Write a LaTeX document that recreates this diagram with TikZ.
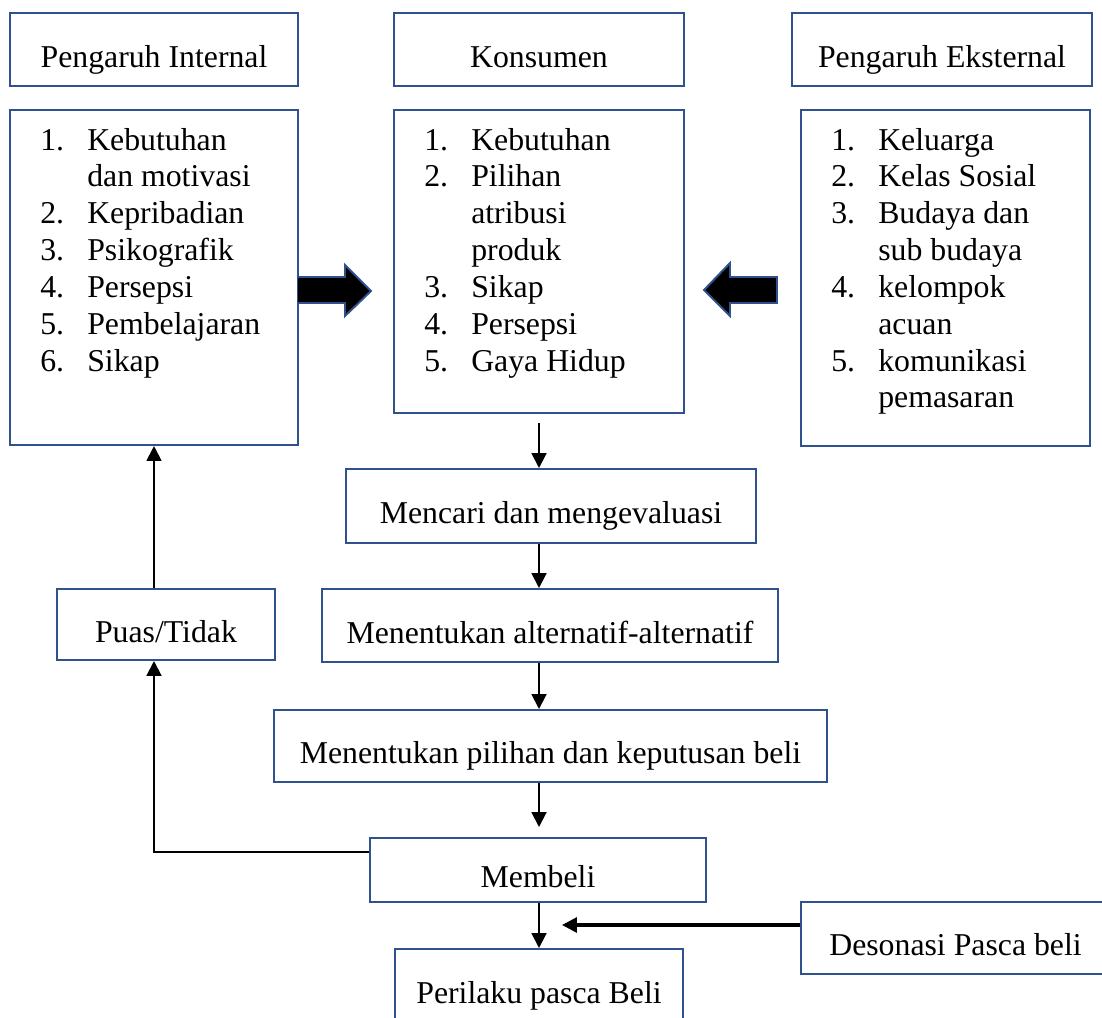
\documentclass[tikz,border=0pt]{standalone}
\usepackage{fontspec}
\setmainfont{Liberation Serif}
\usetikzlibrary{arrows.meta,positioning}
\definecolor{boxblue}{RGB}{47,82,143}
\newcommand{\pix}{0.025cm}
\newcommand{\itm}[2]{\makebox[1.175cm][l]{#1}#2}
\newcommand{\cnt}[1]{\hspace*{1.175cm}#1}

\begin{document}
\begin{tikzpicture}[
    x=\pix, y=-\pix,
    >={Triangle[length=0.37cm, width=0.37cm]},
    every node/.style={font=\fontsize{22.6}{26.2}\selectfont},
    box/.style={draw=boxblue, line width=1.4pt, inner sep=0pt, text height=0.875cm, text depth=0pt},
    lst/.style={align=left, inner sep=0pt, anchor=north west},
    conn/.style={->, line width=1.4pt},
    blk/.style={draw=boxblue, line width=1.4pt, fill=black, line join=miter},
  ]
    \useasboundingbox (0,0) rectangle (1102,1017);
    \clip (0,0) rectangle (1102,1017);

    % top row
    \node[box, minimum width=7.2cm, minimum height=1.825cm] (intl) at (154,49.5) {Pengaruh Internal};
    \node[box, minimum width=7.25cm, minimum height=1.825cm] (kons) at (539,49.5) {Konsumen};
    \node[box, minimum width=7.5cm, minimum height=1.825cm] (ekst) at (942,49.5) {Pengaruh Eksternal};

    % factor lists
    \node[box, minimum width=7.2cm, minimum height=8.375cm] (intlist) at (154,277.5) {};
    \node[box, minimum width=7.25cm, minimum height=7.575cm] (konlist) at (539,261.5) {};
    \node[box, minimum width=7.225cm, minimum height=8.4cm] (ekslist) at (945.5,278) {};
    \node[lst] (intitems) at ([shift={(31,15)}]intlist.north west) {\strut\itm{1.}{Kebutuhan}\\
      \cnt{dan motivasi}\\ \itm{2.}{Kepribadian}\\ \itm{3.}{Psikografik}\\
      \itm{4.}{Persepsi}\\ \itm{5.}{Pembelajaran}\\ \itm{6.}{Sikap}};
    \node[lst] (konitems) at ([shift={(31,15)}]konlist.north west) {\strut\itm{1.}{Kebutuhan}\\
      \itm{2.}{Pilihan}\\ \cnt{atribusi}\\ \cnt{produk}\\
      \itm{3.}{Sikap}\\ \itm{4.}{Persepsi}\\ \itm{5.}{Gaya Hidup}};
    \node[lst] (eksitems) at ([shift={(31,15)}]ekslist.north west) {\strut\itm{1.}{Keluarga}\\
      \itm{2.}{Kelas Sosial}\\ \itm{3.}{Budaya dan}\\ \cnt{sub budaya}\\
      \itm{4.}{kelompok}\\ \cnt{acuan}\\ \itm{5.}{komunikasi}\\ \cnt{pemasaran}};

    % block arrows
    \draw[blk] (298,277) -- (345,277) -- (345,265) -- (371,291) -- (345,316) -- (345,303) -- (298,303);
    \draw[blk] (777,277) -- (730,277) -- (730,263) -- (704,290) -- (730,316) -- (730,303) -- (777,303) -- cycle;

    % decision steps
    \node[box, minimum width=10.25cm, minimum height=1.85cm] (cari) at (551,506) {Mencari dan mengevaluasi};
    \node[box, minimum width=11.4cm, minimum height=1.825cm] (alt) at (550,625.5) {Menentukan alternatif-alternatif};
    \node[box, minimum width=5.45cm, minimum height=1.775cm] (puas) at (166,624.5) {Puas/Tidak};
    \node[box, minimum width=13.825cm, minimum height=1.8cm] (pil) at (550.5,746) {Menentukan pilihan dan keputusan beli};
    \node[box, minimum width=8.4cm, minimum height=1.6cm] (beli) at (538,870) {Membeli};
    \node[box, minimum width=7.2cm, minimum height=1.825cm] (peri) at (539,985.5) {Perilaku pasca Beli};
    \node[box, minimum width=7.725cm, minimum height=1.8cm] (deso) at (955.5,938) {Desonasi Pasca beli};

    % connectors
    \draw[conn, shorten <=0.225cm] (konlist.south) -- (konlist.south |- cari.north);
    \draw[conn] (konlist.south |- cari.south) -- (konlist.south |- alt.north);
    \draw[conn] (konlist.south |- alt.south) -- (konlist.south |- pil.north);
    \draw[conn, shorten >=0.25cm] (konlist.south |- pil.south) -- (konlist.south |- beli.north);
    \draw[conn] (konlist.south |- beli.south) -- (konlist.south |- peri.north);
    \coordinate (fb) at ([yshift=-0.375cm]beli.north west);
    \draw[conn] (fb) -- (intlist.south |- fb) -- (intlist.south |- puas.south);
    \draw[conn] (intlist.south |- puas.north) -- (intlist.south);
    \coordinate (desoin) at (562,925);
    \draw[->, line width=2.2pt] (deso.west |- desoin) -- (desoin);
\end{tikzpicture}
\end{document}
